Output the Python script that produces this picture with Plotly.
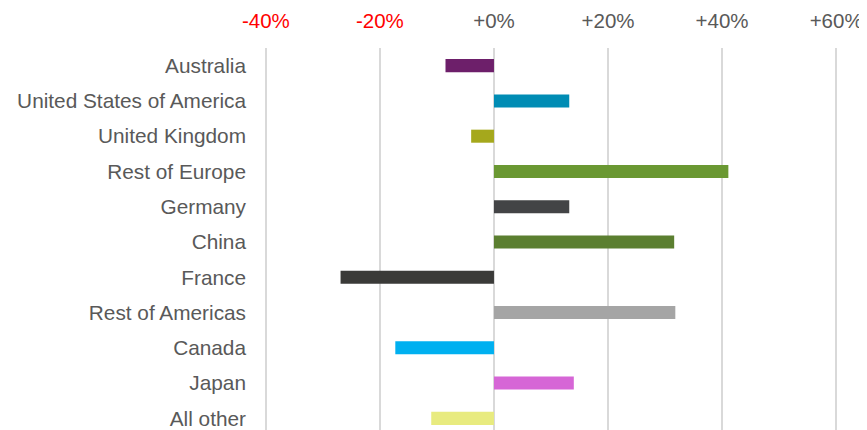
import plotly.graph_objects as go

categories = ["Australia", "United States of America", "United Kingdom", "Rest of Europe",
              "Germany", "China", "France", "Rest of Americas", "Canada", "Japan", "All other"]
values = [-8.5, 13.2, -4.0, 41.1, 13.2, 31.6, -26.9, 31.8, -17.3, 14.0, -11.0]
colors = ["#6d1f6a", "#008cb4", "#a5a81c", "#6a9832", "#434446", "#5b7f30",
          "#3a3a38", "#a5a5a5", "#00b0f0", "#d666d6", "#e8eb7f"]
tick_vals = [-40, -20, 0, 20, 40, 60]
tick_text = ["-40%", "-20%", "+0%", "+20%", "+40%", "+60%"]
tick_colors = ["#ff0000", "#ff0000", "#595959", "#595959", "#595959", "#595959"]

fig = go.Figure(go.Bar(
    y=categories, x=values, orientation="h",
    marker=dict(color=colors, line=dict(width=0)),
    width=0.37,
))

fig.update_layout(
    width=859, height=422,
    margin=dict(l=255, r=28, t=40, b=0),
    paper_bgcolor="white", plot_bgcolor="white",
    font=dict(family="Liberation Sans, Arial, sans-serif", size=21, color="#595959"),
    showlegend=False,
)
fig.update_xaxes(
    range=[-40.5, 60.5], side="top", automargin=False,
    tickvals=tick_vals,
    ticktext=[f'<span style="color:{c}">{t}</span>' for t, c in zip(tick_text, tick_colors)],
    showgrid=True, gridcolor="#d9d9d9", gridwidth=2,
    zeroline=False, showline=False, ticks="",
    ticklabelstandoff=15,
    tickfont=dict(size=20.5),
)
fig.update_yaxes(
    categoryorder="array", categoryarray=categories,
    range=[10.33, -0.5], automargin=False,
    showgrid=False, zeroline=False, showline=False, ticks="",
    ticklabelstandoff=16,
    tickfont=dict(size=20.8, color="#595959"),
)

fig.write_html("out.html")
